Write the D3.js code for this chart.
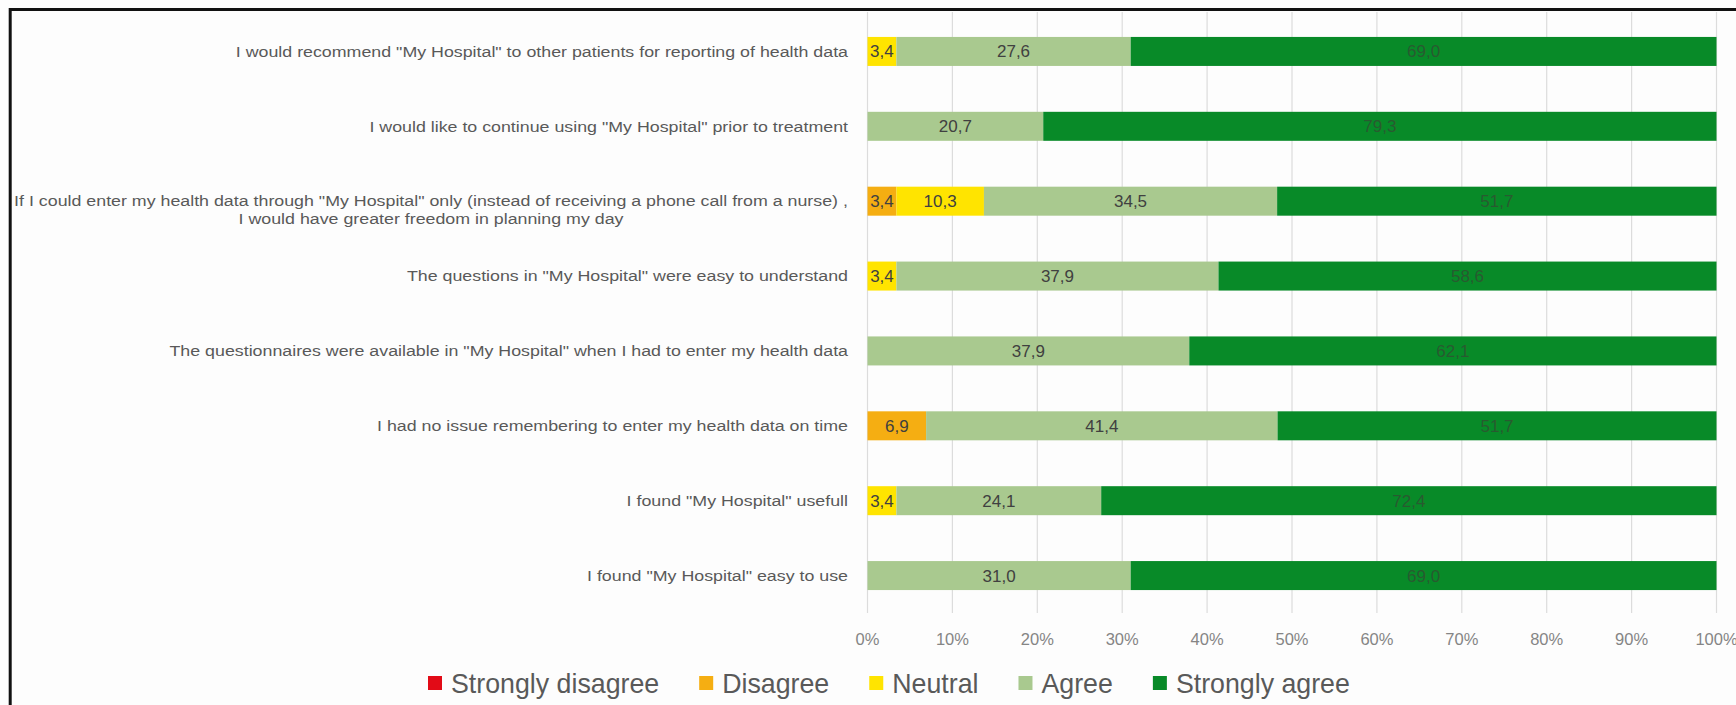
<!DOCTYPE html>
<html><head><meta charset="utf-8">
<script src="https://cdn.jsdelivr.net/npm/d3@7"></script>
<style>body{margin:0;background:#fdfdfd;} svg{display:block}</style>
</head><body>
<svg id="c" width="1736" height="705"></svg>
<script>
const categories = [
  "I would recommend \"My Hospital\" to other patients for reporting of health data",
  "I would like to continue using \"My Hospital\" prior to treatment",
  "If I could enter my health data through \"My Hospital\" only (instead of receiving a phone call from a nurse) ,\nI would have greater freedom in planning my day",
  "The questions in \"My Hospital\" were easy to understand",
  "The questionnaires were available in \"My Hospital\" when I had to enter my health data",
  "I had no issue remembering to enter my health data on time",
  "I found \"My Hospital\" usefull",
  "I found \"My Hospital\" easy to use"
];
const seriesNames = ["Strongly disagree", "Disagree", "Neutral", "Agree", "Strongly agree"];
const stronglyDisagree = [0, 0, 0, 0, 0, 0, 0, 0];
const disagree         = [0, 0, 3.4, 0, 0, 6.9, 0, 0];
const neutral          = [3.4, 0, 10.3, 3.4, 0, 0, 3.4, 0];
const agree            = [27.6, 20.7, 34.5, 37.9, 37.9, 41.4, 24.1, 31.0];
const stronglyAgree    = [69.0, 79.3, 51.7, 58.6, 62.1, 51.7, 72.4, 69.0];
const tickValues = [0, 10, 20, 30, 40, 50, 60, 70, 80, 90, 100];
const tickLabels = ["0%", "10%", "20%", "30%", "40%", "50%", "60%", "70%", "80%", "90%", "100%"];

const colors = ["#e20b17", "#f5ae12", "#ffe400", "#a9c98f", "#088a28"];
const labelColors = ["#404040", "#404040", "#404040", "#404040", "#285a30"];
const seriesValues = [stronglyDisagree, disagree, neutral, agree, stronglyAgree];

const rows = categories.map((c, i) => {
  const r = {cat: c};
  seriesNames.forEach((s, k) => r[s] = seriesValues[k][i]);
  return r;
});

const FONT = "'Liberation Sans', Arial, sans-serif";
const svg = d3.select("#c");
const W = 1736, H = 705;
svg.append("rect").attr("width", W).attr("height", H).attr("fill", "#fdfdfd");

const x = d3.scaleLinear().domain([0, 1]).range([867.5, 1716.5]);
const y = d3.scaleBand().domain(categories).range([14, 613]).paddingInner(0.6127).paddingOuter(0.30635);

// gridlines
svg.append("g").selectAll("line").data(tickValues).join("line")
  .attr("x1", d => x(d / 100)).attr("x2", d => x(d / 100))
  .attr("y1", 12).attr("y2", 613)
  .attr("stroke", "#dcdcdc").attr("stroke-width", 1.2);

// frame
svg.append("path").attr("d", `M10.2,${H} V9.6 H${W}`).attr("fill", "none")
  .attr("stroke", "#111").attr("stroke-width", 3);

const stack = d3.stack().keys(seriesNames).offset(d3.stackOffsetExpand);
const series = stack(rows);

const fmt = v => d3.format(".1f")(v).replace(".", ",");

const sg = svg.append("g").selectAll("g").data(series).join("g")
  .attr("fill", (d, i) => colors[i]);
sg.selectAll("rect").data(d => d.map(p => ({p, key: d.key}))).join("rect")
  .attr("x", d => x(d.p[0]))
  .attr("width", d => Math.max(0, x(d.p[1]) - x(d.p[0])))
  .attr("y", d => y(d.p.data.cat))
  .attr("height", y.bandwidth());

// data labels
series.forEach((s, k) => {
  svg.append("g").selectAll("text").data(s.filter(p => p.data[s.key] > 0)).join("text")
    .attr("x", p => (x(p[0]) + x(p[1])) / 2)
    .attr("y", p => y(p.data.cat) + y.bandwidth() / 2)
    .attr("dy", "0.35em")
    .attr("text-anchor", "middle")
    .attr("font-family", FONT)
    .attr("font-size", 17)
    .attr("fill", labelColors[k])
    .text(p => fmt(p.data[s.key]));
});

// category labels (horizontally fitted so the longest line spans the same width as in the reference)
const cg = svg.append("g");
const probe = cg.append("text").attr("font-family", FONT).attr("font-size", 15.5)
  .text(categories[2].split("\n")[0]);
const kx = 834 / probe.node().getComputedTextLength();
probe.remove();
categories.forEach(c => {
  const lines = c.split("\n");
  const cy = y(c) + y.bandwidth() / 2;
  if (lines.length === 1) {
    cg.append("text")
      .attr("transform", `translate(848,${cy}) scale(${kx},1)`)
      .attr("text-anchor", "end").attr("dy", "0.35em")
      .attr("font-family", FONT).attr("font-size", 15.5).attr("fill", "#595959")
      .text(c);
  } else {
    // multi-line: lines centred on one another, block right-aligned
    const tmp = lines.map(ln => {
      const t = cg.append("text").attr("font-family", FONT).attr("font-size", 15.5).text(ln);
      const w = t.node().getComputedTextLength() * kx; t.remove(); return w;
    });
    const maxW = d3.max(tmp);
    const mid = 848 - maxW / 2;
    lines.forEach((ln, j) => {
      cg.append("text")
        .attr("transform", `translate(${mid},${cy - 1 + j * 18}) scale(${kx},1)`)
        .attr("text-anchor", "middle").attr("dy", "0.35em")
        .attr("font-family", FONT).attr("font-size", 15.5).attr("fill", "#595959")
        .text(ln);
    });
  }
});

// x tick labels
svg.append("g").selectAll("text").data(tickValues).join("text")
  .attr("x", d => x(d / 100)).attr("y", 639).attr("dy", "0.35em")
  .attr("text-anchor", "middle")
  .attr("font-family", FONT)
  .attr("font-size", 16.5).attr("fill", "#858585")
  .text((d, i) => tickLabels[i]);

// legend
const lg = svg.append("g");
const lp = lg.append("text").attr("font-family", FONT).attr("font-size", 26).text(seriesNames[4]);
const legendSize = 26 * 174 / lp.node().getComputedTextLength();
lp.remove();
let lx = 428;
seriesNames.forEach((s, i) => {
  lg.append("rect").attr("x", lx).attr("y", 676).attr("width", 14).attr("height", 14).attr("fill", colors[i]);
  const t = lg.append("text").attr("x", lx + 23).attr("y", 684).attr("dy", "0.35em")
    .attr("font-family", FONT)
    .attr("font-size", legendSize).attr("fill", "#595959").text(s);
  lx = lx + 23 + t.node().getComputedTextLength() + 40;
});
</script>
</body></html>
